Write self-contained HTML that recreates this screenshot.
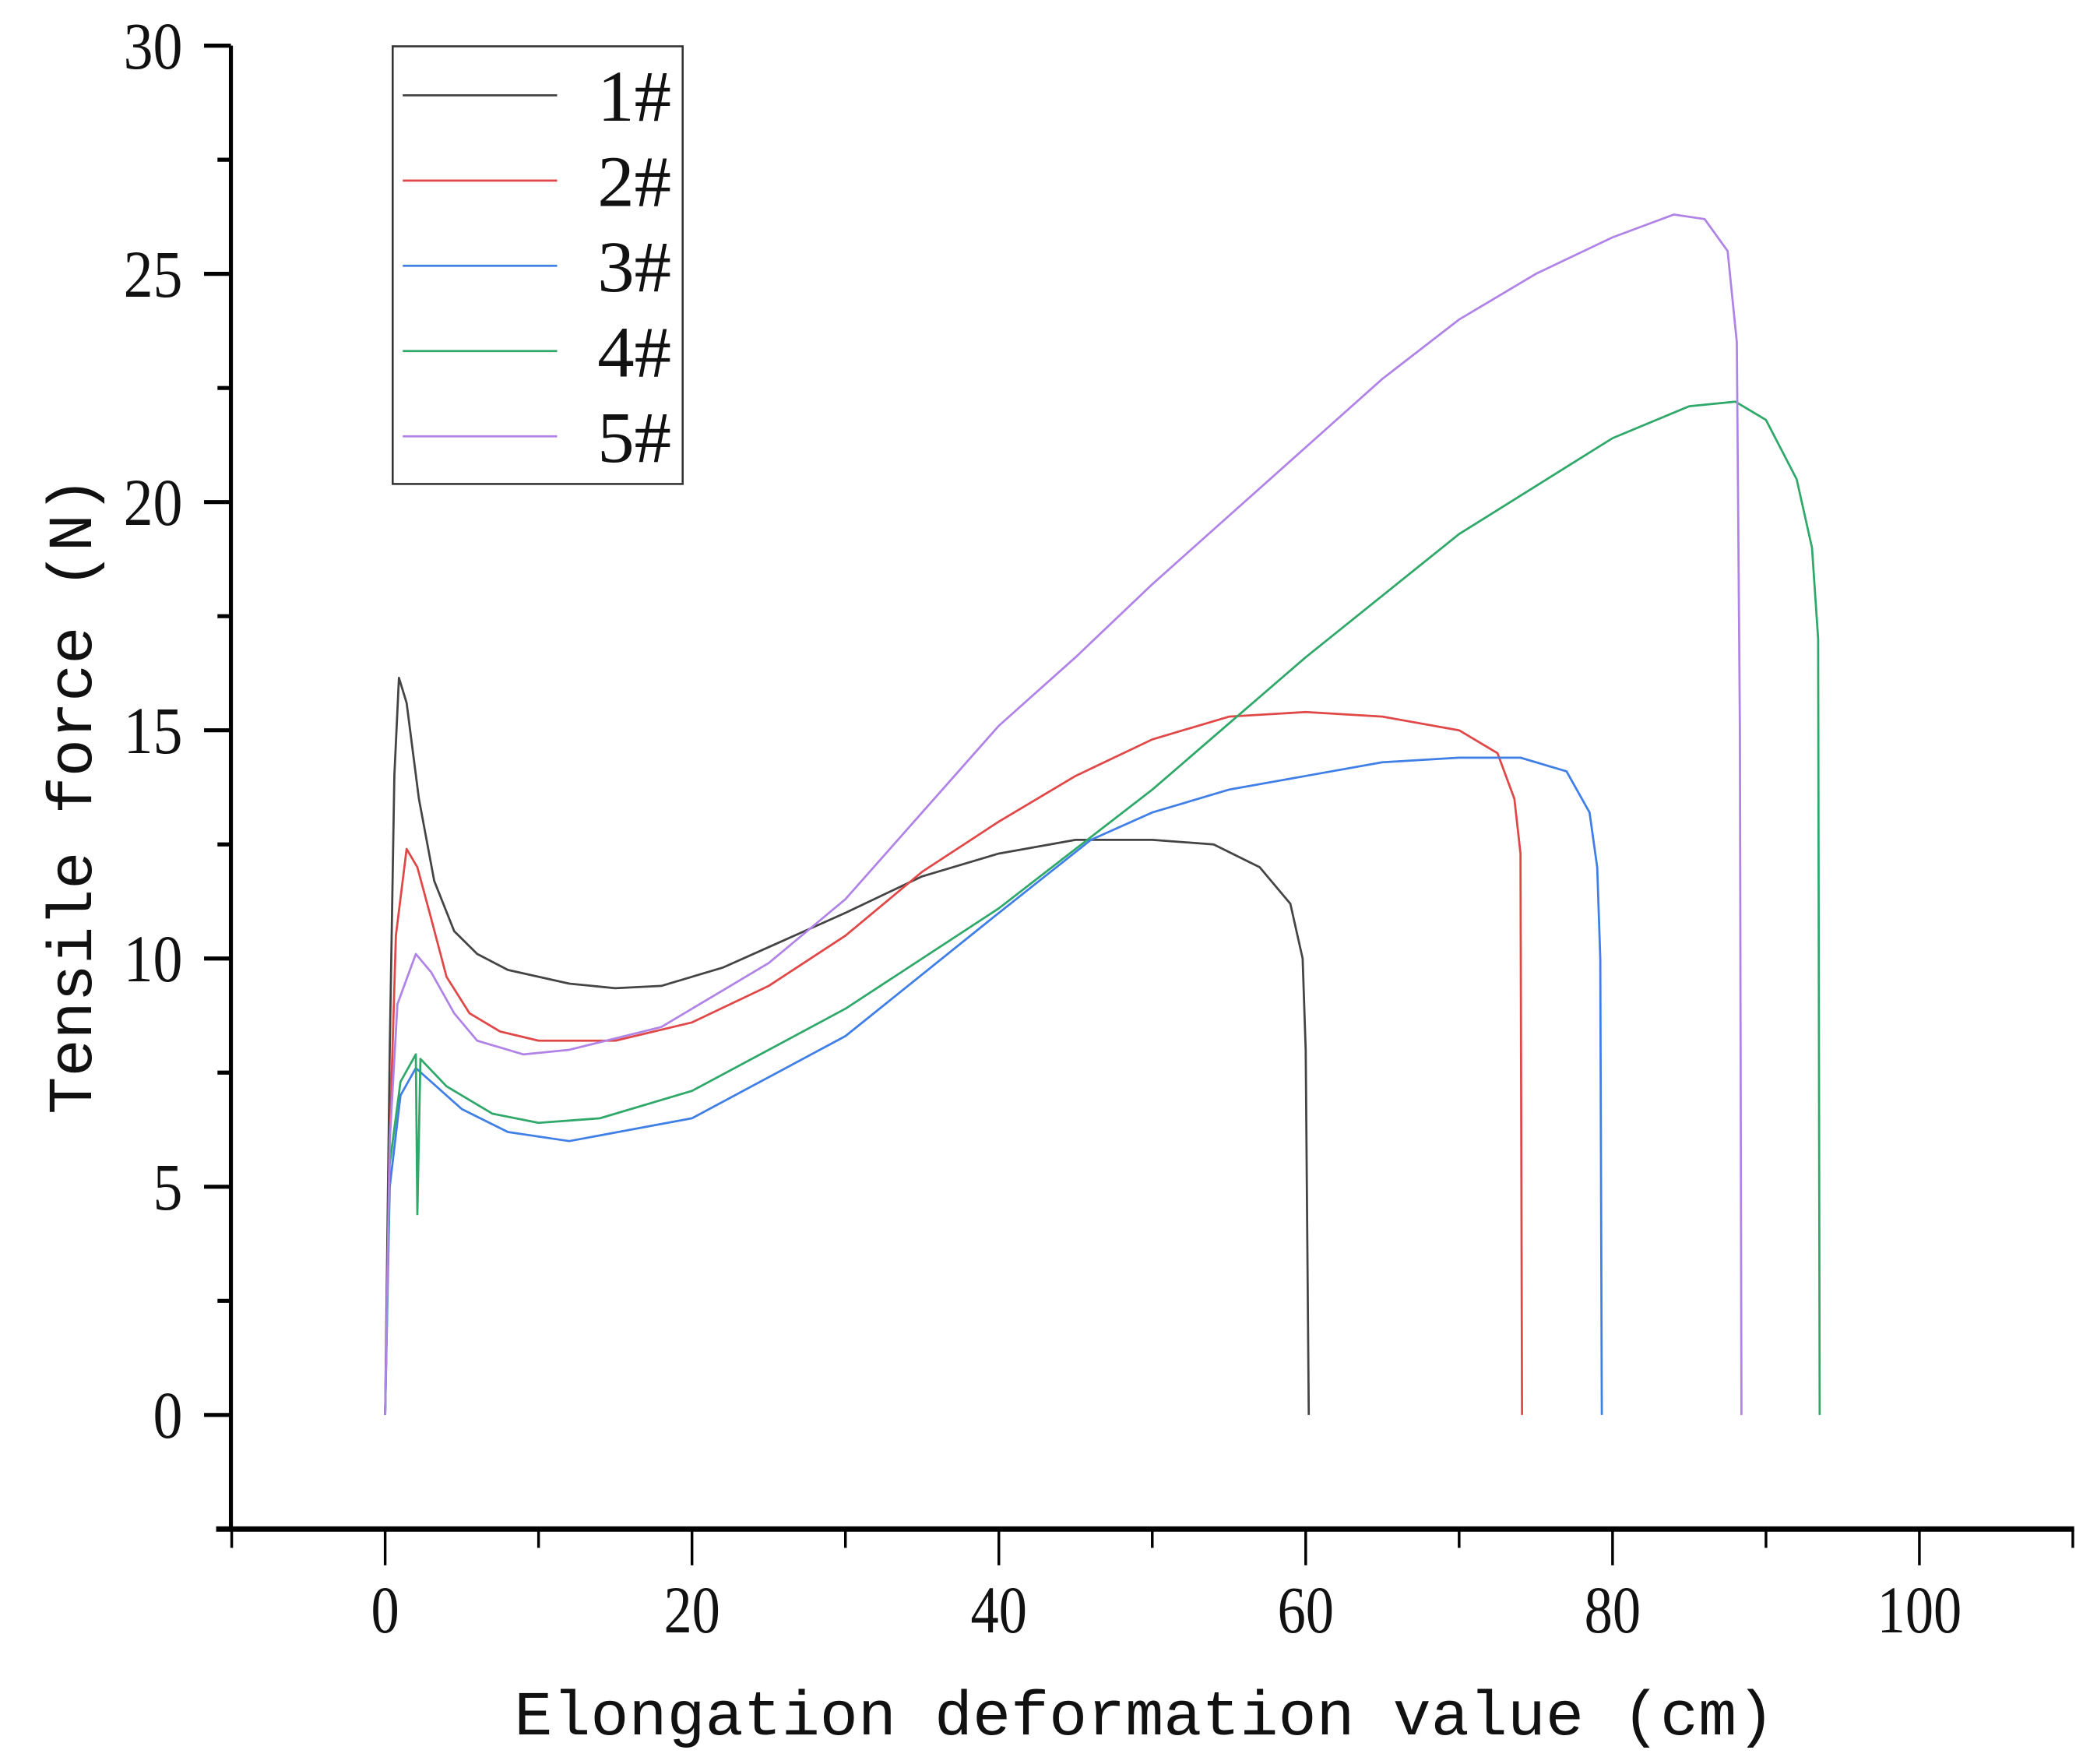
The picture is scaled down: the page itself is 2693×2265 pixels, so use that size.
<!DOCTYPE html>
<html><head><meta charset="utf-8"><style>
html,body{margin:0;padding:0;background:#fff;}
svg{display:block;}
text{font-family:"Liberation Serif",serif;fill:#111;}
.mono{font-family:"Liberation Mono",monospace;}
</style></head><body>
<svg id="chart" width="2693" height="2265" viewBox="0 0 1562 1314" preserveAspectRatio="none" xmlns="http://www.w3.org/2000/svg">
<g id="axes"></g>
<g id="series"></g>
<g id="legend"></g>
<text class="mono" x="383" y="1292" font-size="47" textLength="939" lengthAdjust="spacingAndGlyphs">Elongation deformation value (cm)</text>
<text class="mono" transform="translate(68,830) rotate(-90)" font-size="47" textLength="475" lengthAdjust="spacingAndGlyphs">Tensile force (N)</text>
</svg>
<script>
const xTicks=[0,20,40,60,80,100];
const xMinorTicks=[-10,10,30,50,70,90,110];
const yTicks=[0,5,10,15,20,25,30];
const yMinorTicks=[-2.5,2.5,7.5,12.5,17.5,22.5,27.5];
const seriesNames=["1#","2#","3#","4#","5#"];
const seriesColors=["#444444","#e04848","#3f7fe6","#2fa86a","#b084e6"];
const s1=[[0,0],[0.3,8],[0.6,14],[0.9,16.15],[1.4,15.6],[2.2,13.5],[3.2,11.7],[4.5,10.6],[6,10.1],[8,9.75],[12,9.45],[15,9.35],[18,9.4],[22,9.8],[26,10.4],[30,11.0],[35,11.8],[40,12.3],[45,12.6],[50,12.6],[54,12.5],[57,12.0],[59,11.2],[59.8,10],[60,8],[60.2,0]];
const s2=[[0,0],[0.3,6],[0.7,10.5],[1.4,12.4],[2.1,12],[2.9,11],[4,9.6],[5.5,8.8],[7.5,8.4],[10,8.2],[15,8.2],[20,8.6],[25,9.4],[30,10.5],[35,11.9],[40,13.0],[45,14.0],[50,14.8],[55,15.3],[60,15.4],[65,15.3],[70,15.0],[72.5,14.5],[73.6,13.5],[74,12.3],[74.1,0]];
const s3=[[0,0],[0.3,5],[1,7],[2,7.6],[3,7.3],[5,6.7],[8,6.2],[12,6.0],[20,6.5],[30,8.3],[40,11.0],[46,12.6],[50,13.2],[55,13.7],[60,14.0],[65,14.3],[70,14.4],[74,14.4],[77,14.1],[78.5,13.2],[79,12],[79.2,10],[79.3,0]];
const s4=[[0,0],[0.3,5.5],[1,7.3],[2,7.9],[2.1,4.4],[2.3,7.8],[4,7.2],[7,6.6],[10,6.4],[14,6.5],[20,7.1],[30,8.9],[40,11.1],[50,13.7],[60,16.6],[70,19.3],[80,21.4],[85,22.1],[88,22.2],[90,21.8],[92,20.5],[93,19],[93.4,17],[93.5,0]];
const s5=[[0,0],[0.3,6],[0.8,9],[2,10.1],[3,9.7],[4.5,8.8],[6,8.2],[9,7.9],[12,8.0],[18,8.5],[25,9.9],[30,11.3],[35,13.2],[40,15.1],[45,16.6],[50,18.2],[55,19.7],[60,21.2],[65,22.7],[70,24],[75,25.0],[80,25.8],[84,26.3],[86,26.2],[87.5,25.5],[88.1,23.5],[88.3,15],[88.4,0]];
const allSeries=[s1,s2,s3,s4,s5];

const NS="http://www.w3.org/2000/svg";
const X0=172.6,X1=1544,XMIN=-10,XMAX=110;
const Y0=1139,Y1=34,YMIN=-2.5,YMAX=30;
function sx(v){return X0+(v-XMIN)/(XMAX-XMIN)*(X1-X0);}
function sy(v){return Y0-(v-YMIN)/(YMAX-YMIN)*(Y0-Y1);}
function mk(tag,attrs,parent){const e=document.createElementNS(NS,tag);for(const k in attrs)e.setAttribute(k,attrs[k]);parent.appendChild(e);return e;}
const axes=document.getElementById('axes');
let e;
e=mk('line',{x1:172,y1:Y1,x2:172,y2:1139,stroke:'#000','stroke-width':3},axes);


e=mk('line',{x1:161,y1:1139,x2:1545,y2:1139,stroke:'#000','stroke-width':4},axes);


xTicks.forEach(v=>{
  e=mk('line',{x1:sx(v),y1:1139,x2:sx(v),y2:1166,stroke:'#000','stroke-width':2},axes);
  
  
  const s=String(v);
  e=mk('text',{x:sx(v),y:1216,'font-size':50,'text-anchor':'middle',textLength:s.length*21,lengthAdjust:'spacingAndGlyphs'},axes);
  e.textContent=s;
  
  
});
xMinorTicks.forEach(v=>{
  e=mk('line',{x1:sx(v),y1:1139,x2:sx(v),y2:1153,stroke:'#000','stroke-width':2},axes);
  
  
});
yTicks.forEach(v=>{
  e=mk('line',{x1:152,y1:sy(v),x2:172,y2:sy(v),stroke:'#000','stroke-width':3},axes);
  
  
  const s=String(v);
  e=mk('text',{x:136,y:sy(v)+17,'font-size':50,'text-anchor':'end',textLength:s.length*22,lengthAdjust:'spacingAndGlyphs'},axes);
  e.textContent=s;
  
  
});
yMinorTicks.forEach(v=>{
  e=mk('line',{x1:162,y1:sy(v),x2:172,y2:sy(v),stroke:'#000','stroke-width':3},axes);
  
  
});
const sg=document.getElementById('series');
allSeries.forEach((s,i)=>{
  const d=s.map((p,j)=>(j?'L':'M')+sx(p[0]).toFixed(2)+' '+sy(p[1]).toFixed(2)).join(' ');
  e=mk('path',{d:d,fill:'none',stroke:seriesColors[i],'stroke-width':1.6,'stroke-linejoin':'round'},sg);
  
  
});
const lg=document.getElementById('legend');
e=mk('rect',{x:292.5,y:34.5,width:216,height:326,fill:'#fff',stroke:'#333','stroke-width':1.5},lg);


seriesNames.forEach((n,i)=>{
  const y=71+i*63.5;
  e=mk('line',{x1:300,y1:y,x2:415,y2:y,stroke:seriesColors[i],'stroke-width':1.6},lg);
  
  
  e=mk('text',{x:445,y:y+19,'font-size':54,textLength:55,lengthAdjust:'spacingAndGlyphs'},lg);
  e.textContent=n;
  
  
});
</script>
</body></html>
